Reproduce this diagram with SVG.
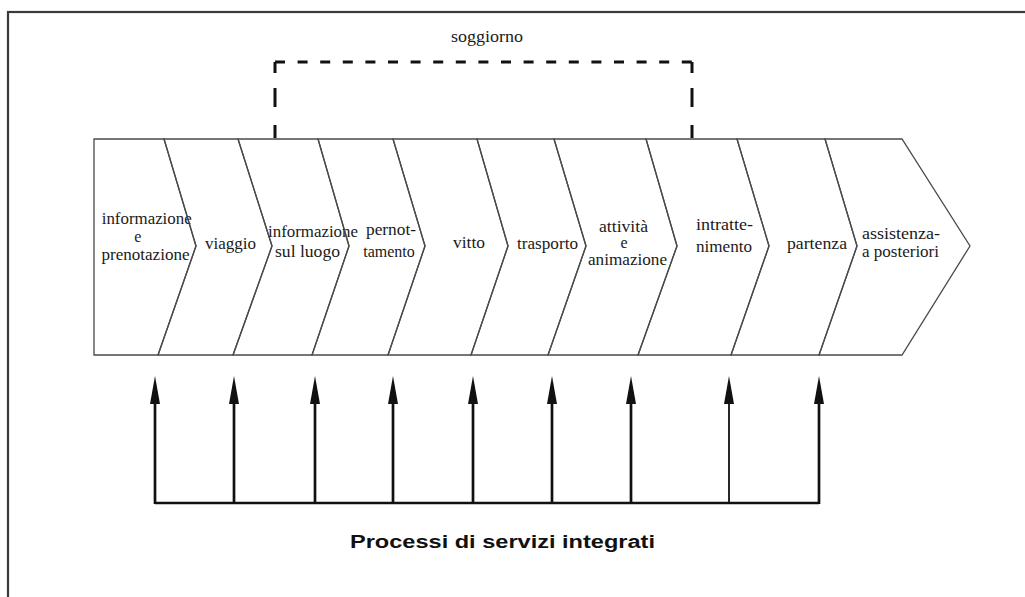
<svg xmlns="http://www.w3.org/2000/svg" width="1025" height="597" viewBox="0 0 1025 597">
  <style>
    .frame { fill: none; stroke: #3a3a3a; stroke-width: 2.2; }
    .stage { fill: none; stroke: #4a4a4a; stroke-width: 1.3; stroke-linejoin: miter; }
    .lbl { font-family: "Liberation Serif", "Times New Roman", serif; font-size: 16px; fill: #1a1a1a; text-anchor: middle; }
    .start { text-anchor: start; }
    .dashH { fill: none; stroke: #111; stroke-width: 3; stroke-dasharray: 10 12.6; }
    .dashV { fill: none; stroke: #111; stroke-width: 3; stroke-dasharray: 11 15 19 18 13; }
    .wire { fill: none; stroke: #111; stroke-width: 2.7; }
    .thin { stroke-width: 1.8; }
    .title { font-family: "Liberation Sans", Arial, sans-serif; font-size: 18px; font-weight: bold; fill: #111; text-anchor: middle; }
  </style>
  <defs>
    <marker id="head" viewBox="0 0 28 10" markerWidth="28" markerHeight="10" refX="14" refY="5" orient="auto" markerUnits="userSpaceOnUse">
      <path d="M0,0 L28,5 L0,10 Z" fill="#111"/>
    </marker>
  </defs>

  <rect width="1025" height="597" fill="#ffffff"/>
  <rect class="frame" x="8" y="12" width="1100" height="700"/>

  <g id="soggiorno">
    <path class="dashV" d="M275,62 V138"/>
    <path class="dashV" d="M692,62 V138"/>
    <path class="dashH" d="M275,62 H692"/>
    <text class="lbl" x="487" y="42" textLength="72" lengthAdjust="spacingAndGlyphs">soggiorno</text>
  </g>

  <g id="stage-informazione-prenotazione">
    <polygon class="stage" points="94,139 164,139 196,246 158,355 94,355"/>
    <text class="lbl" x="146.7" y="224" textLength="90" lengthAdjust="spacingAndGlyphs">informazione</text>
    <text class="lbl" x="137.7" y="242">e</text>
    <text class="lbl" x="145.5" y="260" textLength="88" lengthAdjust="spacingAndGlyphs">prenotazione</text>
  </g>
  <g id="stage-viaggio">
    <polygon class="stage" points="164,139 238,139 272,246 233,355 158,355 196,246"/>
    <text class="lbl" x="230.5" y="248.5" textLength="51" lengthAdjust="spacingAndGlyphs">viaggio</text>
  </g>
  <g id="stage-informazione-luogo">
    <polygon class="stage" points="238,139 318,139 349,246 312,355 233,355 272,246"/>
    <text class="lbl" x="313" y="237" textLength="90" lengthAdjust="spacingAndGlyphs">informazione</text>
    <text class="lbl" x="307.5" y="257" textLength="65" lengthAdjust="spacingAndGlyphs">sul luogo</text>
  </g>
  <g id="stage-pernottamento">
    <polygon class="stage" points="318,139 393,139 425,246 388,355 312,355 349,246"/>
    <text class="lbl" x="391" y="235" textLength="50" lengthAdjust="spacingAndGlyphs">pernot-</text>
    <text class="lbl" x="389" y="257">tamento</text>
  </g>
  <g id="stage-vitto">
    <polygon class="stage" points="393,139 477,139 508,246 471,355 388,355 425,246"/>
    <text class="lbl" x="469" y="248" textLength="32" lengthAdjust="spacingAndGlyphs">vitto</text>
  </g>
  <g id="stage-trasporto">
    <polygon class="stage" points="477,139 554,139 586,246 548,355 471,355 508,246"/>
    <text class="lbl" x="547.5" y="249" textLength="61" lengthAdjust="spacingAndGlyphs">trasporto</text>
  </g>
  <g id="stage-attivita-animazione">
    <polygon class="stage" points="554,139 646,139 677,246 638,355 548,355 586,246"/>
    <text class="lbl" x="623.5" y="231.5" textLength="49" lengthAdjust="spacingAndGlyphs">attività</text>
    <text class="lbl" x="624" y="247.5">e</text>
    <text class="lbl" x="627.5" y="265" textLength="79" lengthAdjust="spacingAndGlyphs">animazione</text>
  </g>
  <g id="stage-intrattenimento">
    <polygon class="stage" points="646,139 737,139 769,246 731,355 638,355 677,246"/>
    <text class="lbl start" x="696" y="230" textLength="57" lengthAdjust="spacingAndGlyphs">intratte-</text>
    <text class="lbl start" x="696" y="251.5" textLength="56" lengthAdjust="spacingAndGlyphs">nimento</text>
  </g>
  <g id="stage-partenza">
    <polygon class="stage" points="737,139 825,139 857,246 819,355 731,355 769,246"/>
    <text class="lbl" x="817" y="248.5" textLength="60" lengthAdjust="spacingAndGlyphs">partenza</text>
  </g>
  <g id="stage-assistenza">
    <polygon class="stage" points="825,139 902,139 970,246 902,355 819,355 857,246"/>
    <text class="lbl start" x="862" y="239" textLength="78" lengthAdjust="spacingAndGlyphs">assistenza-</text>
    <text class="lbl start" x="862" y="256.5" textLength="77" lengthAdjust="spacingAndGlyphs">a posteriori</text>
  </g>

  <g id="connectors">
    <path class="wire" d="M155,503 H819"/>
    <path class="wire" d="M155,504 V390" marker-end="url(#head)"/>
    <path class="wire" d="M234,504 V390" marker-end="url(#head)"/>
    <path class="wire" d="M315,504 V390" marker-end="url(#head)"/>
    <path class="wire" d="M393,504 V390" marker-end="url(#head)"/>
    <path class="wire" d="M473,504 V390" marker-end="url(#head)"/>
    <path class="wire" d="M552,504 V390" marker-end="url(#head)"/>
    <path class="wire" d="M631,504 V390" marker-end="url(#head)"/>
    <path class="wire thin" d="M729,504 V390" marker-end="url(#head)"/>
    <path class="wire" d="M819,504 V390" marker-end="url(#head)"/>
  </g>

  <g id="title">
    <text class="title" x="502.5" y="548" textLength="305" lengthAdjust="spacingAndGlyphs">Processi di servizi integrati</text>
  </g>
</svg>
